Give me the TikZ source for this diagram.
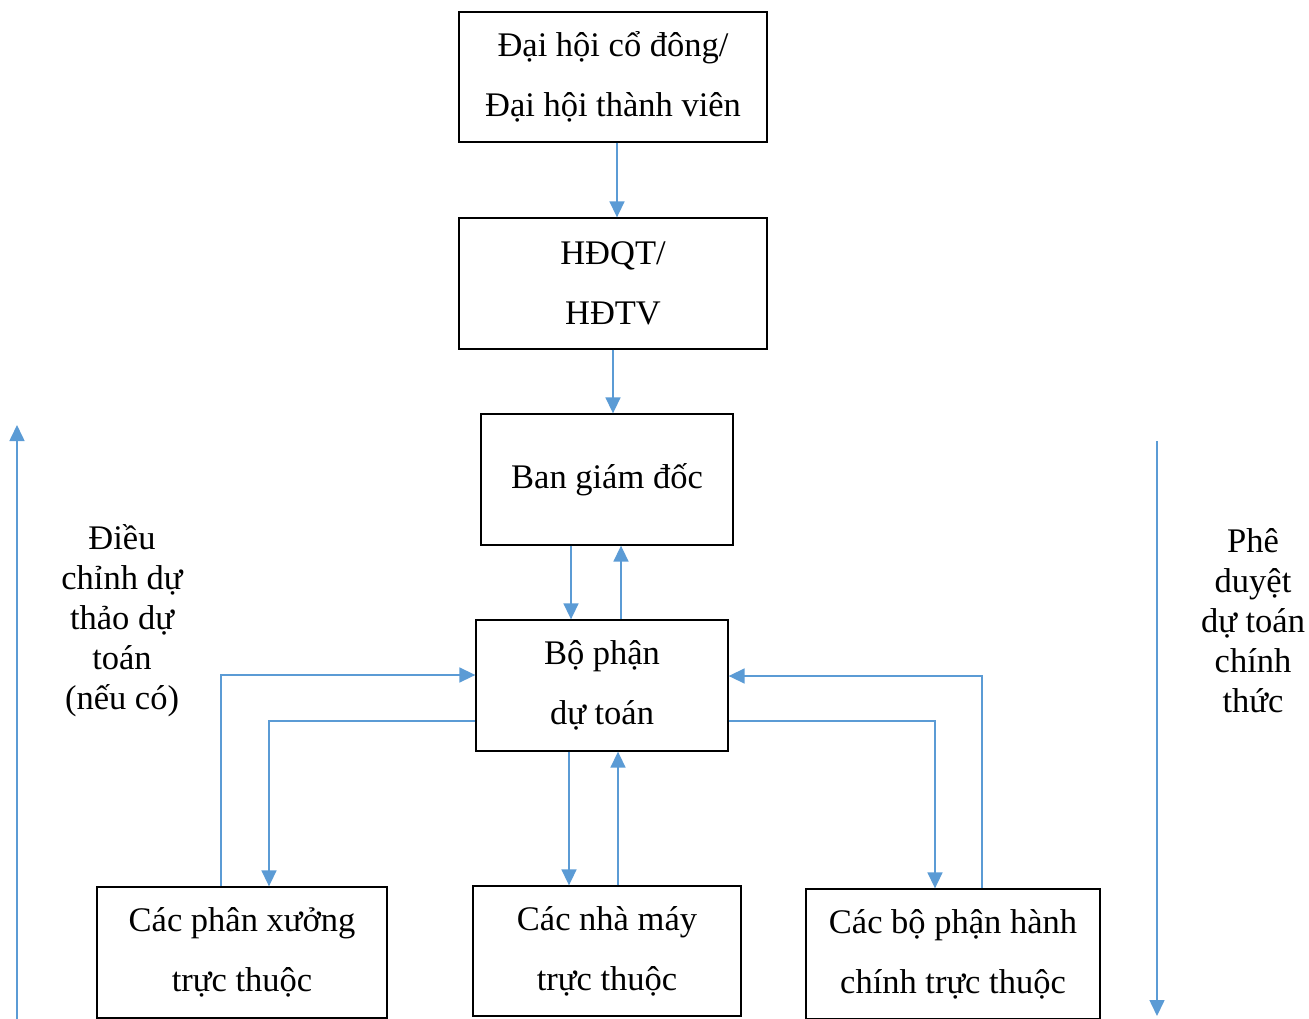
\documentclass[tikz,border=0pt]{standalone}
\usepackage{fontspec}
\setmainfont{Liberation Serif}
\usetikzlibrary{arrows.meta}
\definecolor{lineblue}{RGB}{91,155,213}
\tikzset{
  box/.style={draw=black, line width=1.3pt, align=center, inner sep=0pt,
    font=\fontsize{34.5}{60}\selectfont},
  side/.style={align=center, inner sep=0pt, font=\fontsize{34.5}{40}\selectfont},
  arr/.style={draw=lineblue, line width=1.6pt, -{Triangle[width=15pt,length=16pt]}},
  ln/.style={draw=lineblue, line width=1.6pt}
}
\begin{document}
\begin{tikzpicture}[x=1pt,y=-1pt]
\useasboundingbox (0,0) rectangle (1309,1019);
\node[box, minimum width=308pt, minimum height=130pt] (dh) at (613,77) {Đại hội cổ đông/\\Đại hội thành viên};
\node[box, minimum width=308pt, minimum height=131pt] (hd) at (613,283.5) {HĐQT/\\HĐTV};
\node[box, minimum width=252pt, minimum height=131pt] (bg) at (607,479.5) {Ban giám đốc};
\node[box, minimum width=252pt, minimum height=131pt] (bp) at (602,685.5) {Bộ phận\\dự toán};
\node[box, minimum width=290pt, minimum height=131pt] (px) at (242,952.5) {Các phân xưởng\\trực thuộc};
\node[box, minimum width=268pt, minimum height=130pt] (nm) at (607,951) {Các nhà máy\\trực thuộc};
\node[box, minimum width=294pt, minimum height=130pt] (hc) at (953,954) {Các bộ phận hành\\chính trực thuộc};
\node[side] (lt) at (122,621) {Điều\\chỉnh dự\\thảo dự\\toán\\(nếu có)};
\node[side] (rt) at (1253,621) {Phê\\duyệt\\dự toán\\chính\\thức};
% vertical chain
\draw[arr] ([xshift=4pt]dh.south) -- ([xshift=4pt]dh.south |- hd.north);
\draw[arr] (hd.south) -- (hd.south |- bg.north);
\draw[arr] ([xshift=-36pt]bg.south) -- ([xshift=-36pt]bg.south |- bp.north);
\draw[arr] ([xshift=14pt]bg.south |- bp.north) -- ([xshift=14pt]bg.south);
\draw[arr] ([xshift=-33pt]bp.south) -- ([xshift=-33pt]bp.south |- nm.north);
\draw[arr] ([xshift=16pt]bp.south |- nm.north) -- ([xshift=16pt]bp.south);
% left side
\coordinate (pxup) at ([xshift=-21pt]px.north);
\draw[arr] (pxup) -- (pxup |- 0,675) -- (bp.west |- 0,675);
\coordinate (pxdn) at ([xshift=27pt]px.north);
\draw[arr] (bp.west |- 0,721) -- (pxdn |- 0,721) -- (pxdn);
% right side
\coordinate (hcup) at ([xshift=29pt]hc.north);
\draw[arr] (hcup) -- (hcup |- 0,676) -- (bp.east |- 0,676);
\coordinate (hcdn) at ([xshift=-18pt]hc.north);
\draw[arr] (bp.east |- 0,721) -- (hcdn |- 0,721) -- (hcdn);
% long arrows
\coordinate (la) at (17,1019);
\coordinate (lb) at (17,425);
\draw[arr] (la) -- (lb);
\coordinate (ra) at (1157,441);
\coordinate (rb) at (1157,1016);
\draw[arr] (ra) -- (rb);
\end{tikzpicture}
\end{document}
